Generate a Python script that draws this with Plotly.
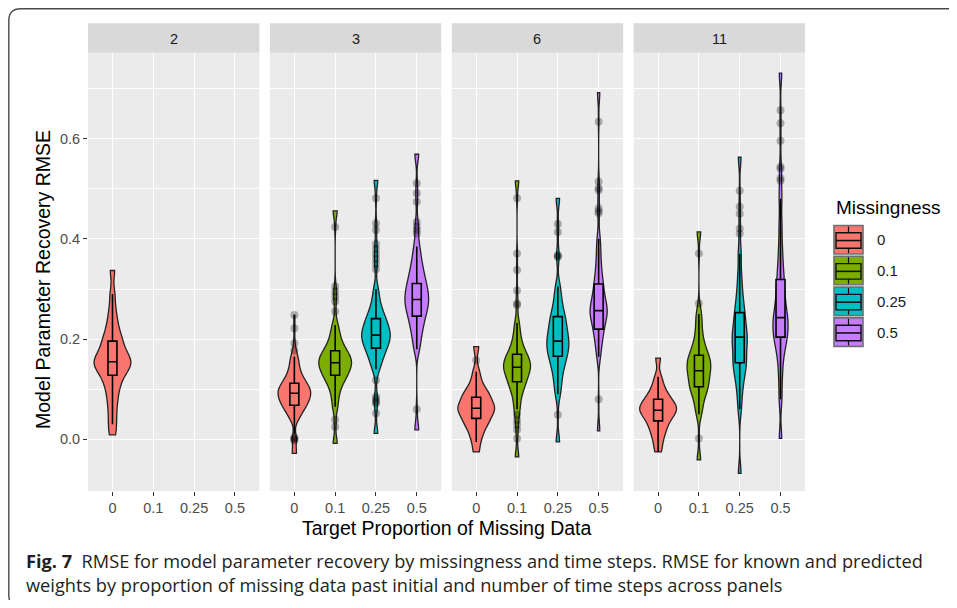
import plotly.graph_objects as go
from plotly.subplots import make_subplots

# ---------------- data ----------------
FACETS = ["2", "3", "6", "11"]
MISSINGNESS = ["0", "0.1", "0.25", "0.5"]

# representative RMSE quantiles per violin (body of the distribution incl. tail ends);
# each listed value stands for RUNS_PER_VALUE simulation runs
RUNS_PER_VALUE = 4

T2_M0 = [0.009, 0.03, 0.05, 0.07, 0.085, 0.10, 0.11, 0.12, 0.128, 0.135, 0.14, 0.145, 0.15, 0.152,
         0.155, 0.158, 0.162, 0.168, 0.175, 0.18, 0.188, 0.196, 0.203, 0.212, 0.225, 0.24, 0.26, 0.29, 0.337]

T3_M0 = [-0.028, 0.04, 0.05, 0.058, 0.064, 0.068, 0.072, 0.076, 0.08, 0.084, 0.088, 0.091, 0.094, 0.097,
         0.1, 0.104, 0.108, 0.112, 0.117, 0.123, 0.13, 0.14, 0.152, 0.165]
T3_M01 = [-0.008, 0.065, 0.085, 0.1, 0.11, 0.118, 0.124, 0.128, 0.133, 0.138, 0.142, 0.146, 0.15, 0.153,
          0.156, 0.16, 0.164, 0.168, 0.172, 0.177, 0.183, 0.19, 0.2, 0.212, 0.228, 0.456]
T3_M025 = [0.012, 0.14, 0.152, 0.162, 0.17, 0.176, 0.182, 0.187, 0.192, 0.197, 0.201, 0.205, 0.208, 0.212,
           0.216, 0.221, 0.226, 0.231, 0.236, 0.241, 0.248, 0.256, 0.266, 0.28, 0.3, 0.517]
T3_M05 = [0.019, 0.18, 0.2, 0.215, 0.227, 0.237, 0.246, 0.254, 0.261, 0.267, 0.273, 0.279, 0.285, 0.291,
          0.297, 0.304, 0.311, 0.319, 0.328, 0.338, 0.35, 0.365, 0.385, 0.569]

T6_M0 = [-0.025, -0.005, 0.008, 0.018, 0.026, 0.032, 0.037, 0.042, 0.047, 0.052, 0.056, 0.06, 0.062, 0.065,
         0.069, 0.073, 0.078, 0.084, 0.088, 0.092, 0.098, 0.106, 0.118, 0.135, 0.185]
T6_M01 = [-0.035, 0.06, 0.078, 0.092, 0.102, 0.109, 0.115, 0.121, 0.127, 0.132, 0.137, 0.141, 0.144, 0.148,
          0.152, 0.156, 0.161, 0.166, 0.17, 0.177, 0.186, 0.197, 0.212, 0.232, 0.516]
T6_M025 = [-0.005, 0.09, 0.11, 0.126, 0.14, 0.15, 0.158, 0.166, 0.173, 0.179, 0.185, 0.19, 0.196, 0.202,
           0.208, 0.215, 0.222, 0.23, 0.238, 0.245, 0.255, 0.268, 0.284, 0.305, 0.481]
T6_M05 = [0.017, 0.165, 0.185, 0.2, 0.211, 0.22, 0.229, 0.237, 0.244, 0.25, 0.255, 0.257, 0.262, 0.268,
          0.275, 0.283, 0.292, 0.301, 0.31, 0.322, 0.336, 0.354, 0.376, 0.4, 0.692]

T11_M0 = [-0.025, -0.008, 0.005, 0.015, 0.023, 0.03, 0.037, 0.042, 0.047, 0.051, 0.055, 0.058, 0.061, 0.064,
          0.067, 0.071, 0.075, 0.08, 0.085, 0.091, 0.099, 0.11, 0.125, 0.162]
T11_M01 = [-0.041, 0.05, 0.068, 0.082, 0.093, 0.1, 0.105, 0.112, 0.119, 0.125, 0.131, 0.137, 0.142, 0.147,
           0.152, 0.157, 0.163, 0.168, 0.175, 0.184, 0.195, 0.21, 0.23, 0.25, 0.414]
T11_M025 = [-0.068, 0.06, 0.09, 0.11, 0.125, 0.138, 0.146, 0.153, 0.162, 0.172, 0.182, 0.192, 0.2, 0.204,
            0.212, 0.222, 0.232, 0.243, 0.253, 0.266, 0.282, 0.302, 0.33, 0.37, 0.563]
T11_M05 = [0.002, 0.08, 0.12, 0.15, 0.172, 0.188, 0.198, 0.204, 0.213, 0.222, 0.23, 0.237, 0.243, 0.252,
           0.263, 0.275, 0.289, 0.304, 0.319, 0.337, 0.36, 0.39, 0.43, 0.48, 0.731]

# outlier points shown by the boxplots
T2_M0_OUT = []
T3_M0_OUT = [0.178, 0.192, 0.222, 0.248, 0.004, 0.002, 0.001, -0.002]
T3_M01_OUT = [0.424, 0.305, 0.295, 0.285, 0.275, 0.255, 0.039, 0.025]
T3_M025_OUT = [0.481, 0.431, 0.418, 0.39, 0.38, 0.37, 0.36, 0.35, 0.34, 0.118, 0.085, 0.08, 0.075, 0.072, 0.052]
T3_M05_OUT = [0.511, 0.491, 0.474, 0.434, 0.425, 0.418, 0.411, 0.06]
T6_M0_OUT = [0.158]
T6_M01_OUT = [0.481, 0.371, 0.338, 0.297, 0.271, 0.268, 0.049, 0.038, 0.029, 0.019, 0.002]
T6_M025_OUT = [0.43, 0.414, 0.368, 0.366, 0.364, 0.049]
T6_M05_OUT = [0.634, 0.514, 0.501, 0.497, 0.461, 0.455, 0.451, 0.08]
T11_M0_OUT = []
T11_M01_OUT = [0.371, 0.271, 0.002]
T11_M025_OUT = [0.496, 0.464, 0.45, 0.421, 0.411]
T11_M05_OUT = [0.657, 0.631, 0.596, 0.544, 0.54, 0.521, 0.516]

SAMPLES = [[T2_M0], [T3_M0, T3_M01, T3_M025, T3_M05], [T6_M0, T6_M01, T6_M025, T6_M05],
           [T11_M0, T11_M01, T11_M025, T11_M05]]
OUTLIERS = [[T2_M0_OUT], [T3_M0_OUT, T3_M01_OUT, T3_M025_OUT, T3_M05_OUT],
            [T6_M0_OUT, T6_M01_OUT, T6_M025_OUT, T6_M05_OUT],
            [T11_M0_OUT, T11_M01_OUT, T11_M025_OUT, T11_M05_OUT]]

# boxplot statistics per facet
Q1 = [[0.128], [0.068, 0.128, 0.182, 0.246], [0.042, 0.115, 0.166, 0.220], [0.037, 0.105, 0.153, 0.204]]
MEDIAN = [[0.155], [0.092, 0.153, 0.208, 0.279], [0.062, 0.144, 0.196, 0.257], [0.058, 0.137, 0.204, 0.243]]
Q3 = [[0.196], [0.112, 0.177, 0.241, 0.311], [0.084, 0.170, 0.245, 0.310], [0.080, 0.168, 0.253, 0.319]]
LOWER = [[0.03], [0.01, 0.065, 0.14, 0.18], [-0.005, 0.06, 0.09, 0.165], [-0.025, 0.05, 0.06, 0.08]]
UPPER = [[0.29], [0.165, 0.228, 0.30, 0.385], [0.135, 0.232, 0.305, 0.40], [0.125, 0.25, 0.37, 0.48]]

# ---------------- style ----------------
COLORS = ["#F8766D", "#7CAE00", "#00BFC4", "#C77CFF"]
VIOLIN_WIDTH = [[0.9], [0.8, 0.8, 0.7, 0.58], [0.9, 0.66, 0.54, 0.42], [0.9, 0.58, 0.37, 0.37]]
BANDWIDTH = [[0.016], [0.012, 0.013, 0.014, 0.016], [0.012, 0.014, 0.016, 0.018], [0.012, 0.015, 0.019, 0.021]]
FONT = "Liberation Sans, Arial, sans-serif"
CAPTION_FONT = "Open Sans, Lato, sans-serif"

# the page places the figure 8px in from the window edges (default body margin);
# keep the figure small enough that no scrollbars appear
OFF = 8
W, H = 957 - 2 * OFF, 608 - 2 * OFF
ML, MT = 88 - OFF, 53 - OFF
MR = W - (805 - OFF)
MB = H - (491 - OFF)
PW, PH = W - ML - MR, H - MT - MB
GAP = 10.5


def px(x):  # window pixel -> paper x
    return (x - OFF - ML) / PW


def py(y):  # window pixel -> paper y
    return (MT + PH - (y - OFF)) / PH


fig = make_subplots(rows=1, cols=4, shared_yaxes=True, horizontal_spacing=GAP / PW)

for fi, facet in enumerate(FACETS):
    col = fi + 1
    n = len(SAMPLES[fi])
    for mi in range(n):
        pos = mi + 1
        fig.add_trace(go.Violin(
            x0=pos, y=SAMPLES[fi][mi] * RUNS_PER_VALUE + OUTLIERS[fi][mi], name=MISSINGNESS[mi],
            width=VIOLIN_WIDTH[fi][mi], bandwidth=BANDWIDTH[fi][mi], spanmode="hard",
            scalemode="width", fillcolor=COLORS[mi], opacity=1,
            line=dict(color="#222222", width=1.3), points=False,
            box=dict(visible=False), meanline=dict(visible=False),
            showlegend=False, hoverinfo="skip"), row=1, col=col)
    for mi in range(n):
        pos = mi + 1
        fig.add_trace(go.Box(
            x=[pos], q1=[Q1[fi][mi]], median=[MEDIAN[fi][mi]], q3=[Q3[fi][mi]],
            lowerfence=[LOWER[fi][mi]], upperfence=[UPPER[fi][mi]],
            width=0.22, whiskerwidth=0, fillcolor=COLORS[mi], boxpoints=False,
            line=dict(color="#000000", width=1.6), showlegend=False, hoverinfo="skip"),
            row=1, col=col)
    for mi in range(n):
        pos = mi + 1
        pts = OUTLIERS[fi][mi]
        if pts:
            fig.add_trace(go.Scatter(
                x=[pos] * len(pts), y=pts, mode="markers",
                marker=dict(color="rgba(0,0,0,0.28)", size=8, line=dict(width=0)),
                showlegend=False, hoverinfo="skip"), row=1, col=col)

for i in range(1, 5):
    fig.update_xaxes(
        row=1, col=i, type="linear", range=[0.4, 4.6], tickmode="array",
        tickvals=[1, 2, 3, 4], ticktext=MISSINGNESS, showgrid=True, gridcolor="white",
        gridwidth=1.1, zeroline=False, ticks="outside", ticklen=4, tickwidth=1.1,
        tickcolor="#333333", tickfont=dict(family=FONT, size=14.5, color="#4D4D4D"),
        showline=False, fixedrange=True)
    fig.update_yaxes(
        row=1, col=i, range=[-0.103, 0.771], tickmode="array", tickvals=[0, 0.2, 0.4, 0.6],
        ticktext=["0.0", "0.2", "0.4", "0.6"], showgrid=True, gridcolor="white", gridwidth=1.1,
        zeroline=False, ticks="outside" if i == 1 else "", ticklen=4, tickwidth=1.1,
        tickcolor="#333333", tickfont=dict(family=FONT, size=14.5, color="#4D4D4D"),
        minor=dict(tickmode="array", tickvals=[0.1, 0.3, 0.5, 0.7], showgrid=True,
                   gridcolor="white", gridwidth=0.55, ticks=""),
        showline=False, fixedrange=True)

shapes = []
annotations = []

# facet strips
for i, facet in enumerate(FACETS):
    xr = "x domain" if i == 0 else f"x{i + 1} domain"
    shapes.append(dict(type="rect", xref=xr, yref="paper", x0=0, x1=1, y0=py(52.7), y1=py(23.3),
                       fillcolor="#D9D9D9", line=dict(width=0), layer="below"))
    annotations.append(dict(xref=xr, yref="paper", x=0.5, y=py(38.8), text=facet, showarrow=False,
                            xanchor="center", yanchor="middle",
                            font=dict(family=FONT, size=14.5, color="#1A1A1A")))

# axis titles
annotations.append(dict(xref="paper", yref="paper", x=px(446.5), y=py(528), showarrow=False,
                        text="Target Proportion of Missing Data", xanchor="center", yanchor="middle",
                        font=dict(family=FONT, size=19.5, color="#000000")))
annotations.append(dict(xref="paper", yref="paper", x=px(43), y=py(280), showarrow=False,
                        text="Model Parameter Recovery RMSE", textangle=-90,
                        xanchor="center", yanchor="middle",
                        font=dict(family=FONT, size=19.5, color="#000000")))

# legend (drawn as ggplot-style keys)
annotations.append(dict(xref="paper", yref="paper", x=px(834), y=py(207.5), showarrow=False,
                        text="Missingness", xanchor="left", yanchor="middle",
                        font=dict(family=FONT, size=19, color="#000000")))
KEY_X0, KEY_X1 = 834, 863
for i, lab in enumerate(MISSINGNESS):
    top = 225.5 + i * 30.8
    bot = top + 28.5
    b0, b1 = top + 7.3, top + 22.8
    mid = (b0 + b1) / 2
    cx = (KEY_X0 + KEY_X1) / 2
    shapes.append(dict(type="rect", xref="paper", yref="paper", x0=px(KEY_X0), x1=px(KEY_X1),
                       y0=py(bot), y1=py(top), fillcolor=COLORS[i],
                       line=dict(color="#707070", width=1.6)))
    shapes.append(dict(type="rect", xref="paper", yref="paper", x0=px(KEY_X0 + 2), x1=px(KEY_X1 - 2),
                       y0=py(b1), y1=py(b0), fillcolor="rgba(0,0,0,0)",
                       line=dict(color="#111111", width=1.4)))
    shapes.append(dict(type="line", xref="paper", yref="paper", x0=px(KEY_X0 + 2), x1=px(KEY_X1 - 2),
                       y0=py(mid), y1=py(mid), line=dict(color="#111111", width=1.6)))
    shapes.append(dict(type="line", xref="paper", yref="paper", x0=px(cx), x1=px(cx),
                       y0=py(top + 1), y1=py(b0), line=dict(color="#111111", width=1.2)))
    shapes.append(dict(type="line", xref="paper", yref="paper", x0=px(cx), x1=px(cx),
                       y0=py(b1), y1=py(bot - 1), line=dict(color="#111111", width=1.2)))
    annotations.append(dict(xref="paper", yref="paper", x=px(875), y=py((top + bot) / 2),
                            showarrow=False, text=lab, xanchor="left", yanchor="middle",
                            font=dict(family=FONT, size=15, color="#1A1A1A")))

# caption
annotations.append(dict(xref="paper", yref="paper", x=px(24), y=py(561), showarrow=False,
                        xanchor="left", yanchor="middle",
                        text="<b>Fig. 7</b>\u00a0 RMSE for model parameter recovery by missingness and time steps. "
                             "RMSE for known and predicted",
                        font=dict(family=CAPTION_FONT, size=18.2, color="#231F20")))
annotations.append(dict(xref="paper", yref="paper", x=px(24), y=py(584.5), showarrow=False,
                        xanchor="left", yanchor="middle",
                        text="weights by proportion of missing data past initial and number of time steps across panels",
                        font=dict(family=CAPTION_FONT, size=18.2, color="#231F20")))


# rounded frame (open on the right: it runs off the window edge)
def frame_path(x0, y0, x_end, y1, r):
    def P(x, y):
        return f"{px(x):.5f},{py(y):.5f}"
    return (f"M {P(x_end, y0)} L {P(x0 + r, y0)} Q {P(x0, y0)} {P(x0, y0 + r)} "
            f"L {P(x0, y1 - r)} Q {P(x0, y1)} {P(x0 + r, y1)} L {P(x_end, y1)}")


shapes.append(dict(type="path", xref="paper", yref="paper", path=frame_path(8.8, 8.8, 960, 607, 12),
                   line=dict(color="#4a4a4a", width=1.4), fillcolor="rgba(0,0,0,0)"))

fig.update_layout(
    width=W, height=H, margin=dict(l=ML, r=MR, t=MT, b=MB),
    paper_bgcolor="white", plot_bgcolor="#EBEBEB",
    violinmode="overlay", boxmode="overlay", showlegend=False,
    shapes=shapes, annotations=annotations,
    font=dict(family=FONT, color="#000000"),
)

fig.write_html("out.html")
